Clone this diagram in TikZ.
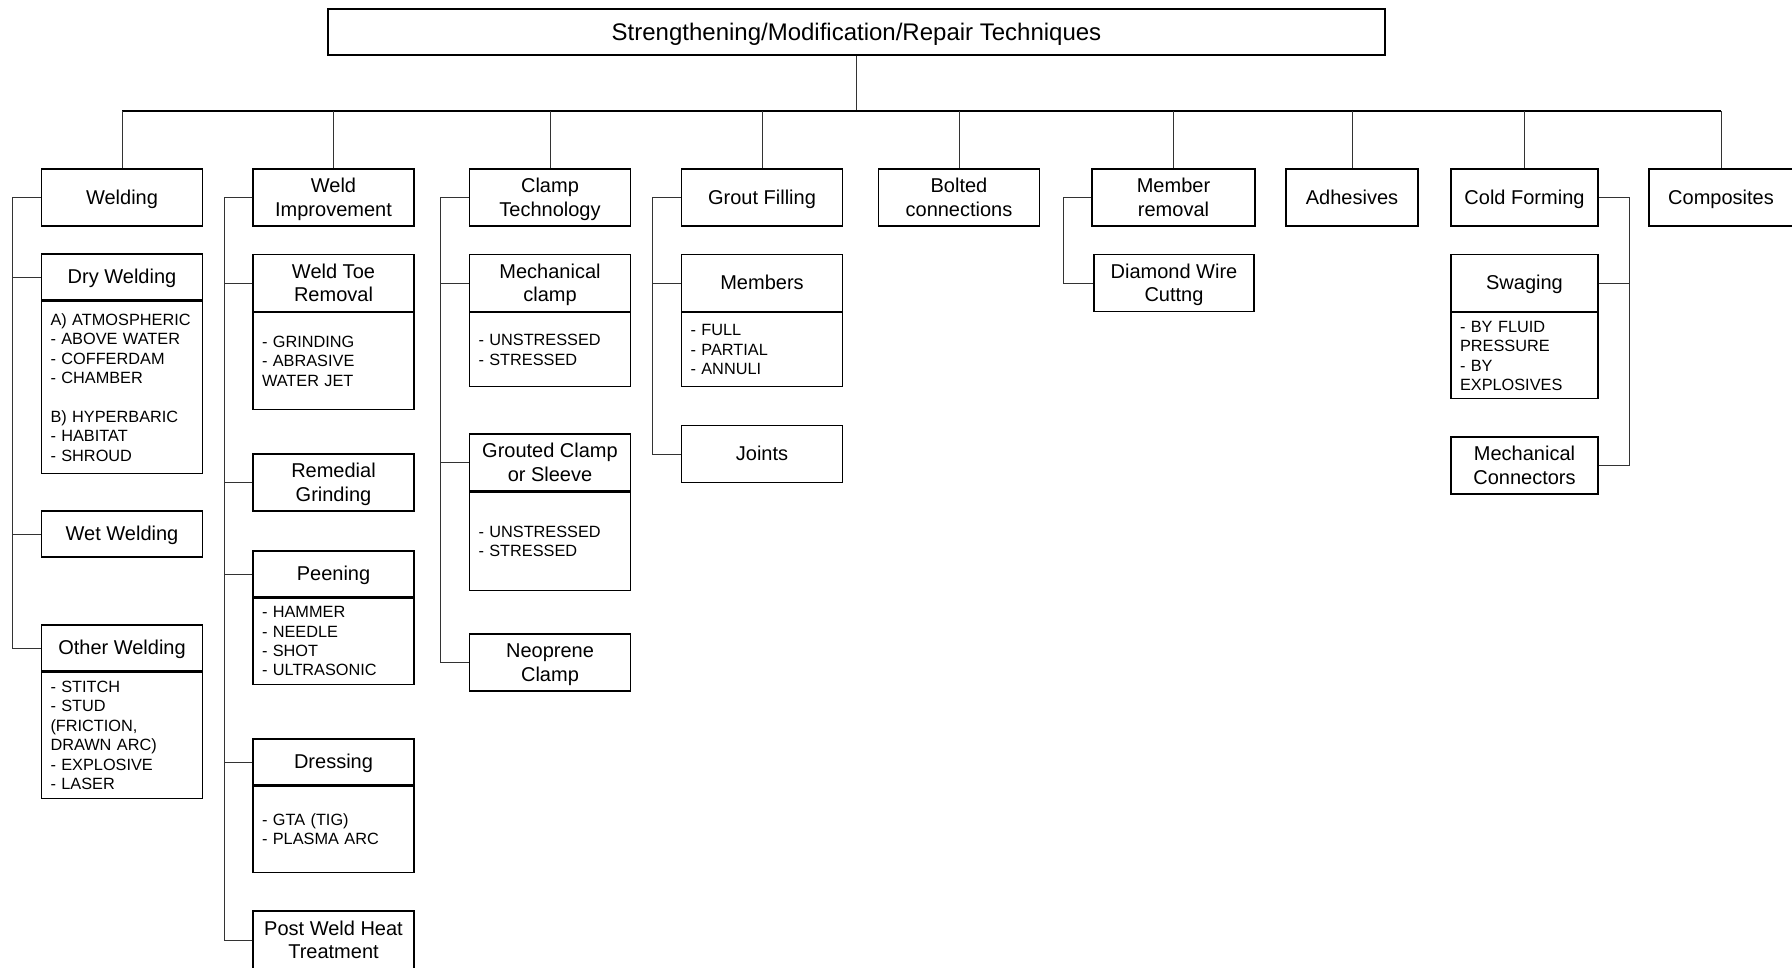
\documentclass[tikz,border=0pt]{standalone}
\usepackage{fontspec}
\setmainfont{Liberation Sans}
\usetikzlibrary{positioning}
\newcommand\vstrut{\rule[-0.212em]{0pt}{1.117em}}
\newcommand\twolines[2]{\raisebox{-2.5pt}[\height][\depth]{\begin{tabular}{@{}c@{}}#1\\#2\end{tabular}}}
\tikzset{
  box/.style={draw,line width=1.3pt,inner sep=0pt,align=center,minimum width=161pt,minimum height=57pt,font=\fontsize{20}{23.5}\selectfont,
    execute at begin node=\vstrut},
  items/.style={draw,line width=1.3pt,inner xsep=9pt,inner ysep=0pt,align=left,font=\fontsize{16.3}{19.4}\selectfont},
  link/.style={line width=1pt,draw=black!80},
  bus/.style={line width=1.8pt}
}
\newcommand\details[5][143pt]{\node(#2)[items,text width=#1,minimum height=#4,below=0pt of #3]{#5};}

\begin{document}
\begin{tikzpicture}[x=1pt,y=-1pt]
    \useasboundingbox (0,0) rectangle (1792,967);
    \node(root)[box,minimum width=1057pt,minimum height=46pt,font=\fontsize{24}{28}\selectfont] at (856.5,32) {Strengthening/Modification/Repair Techniques};
    \coordinate(bus) at (856.5,111);

    \node(weld)[box]                    at (122,197.5)    {Welding};
    \node(wimp)[box]                    at (333.5,197.5)  {\twolines{Weld}{Improvement}};
    \node(clamp)[box]                   at (550,197.5)    {\twolines{Clamp}{Technology}};
    \node(grout)[box]                   at (762,197.5)    {Grout Filling};
    \node(bolt)[box]                    at (959,197.5)    {\twolines{Bolted}{connections}};
    \node(memrem)[box,minimum width=163pt] at (1173.5,197.5) {\twolines{Member}{removal}};
    \node(adhes)[box,minimum width=132pt]  at (1352,197.5)   {Adhesives};
    \node(cold)[box,minimum width=147pt]   at (1524.5,197.5) {Cold Forming};
    \node(compo)[box,minimum width=144pt]  at (1721,197.5)   {Composites};

    \draw[link] (root) -- (bus);
    \draw[bus] (weld.north |- bus) -- (compo.north |- bus);
    \foreach \n in {weld,wimp,clamp,grout,bolt,memrem,adhes,cold,compo}
        \draw[link] (\n.north) -- (\n.north |- bus);

    \node(dryh)[box,minimum height=46pt] at (122,277) {Dry Welding};
    \details{dryb}{dryh}{172pt}{A) ATMOSPHERIC\\- ABOVE WATER\\- COFFERDAM\\- CHAMBER\\[19.4pt]B) HYPERBARIC\\- HABITAT\\- SHROUD}
    \node(weth)[box,minimum height=46pt] at (122,534) {Wet Welding};
    \node(othh)[box,minimum height=46pt] at (122,648) {Other Welding};
    \details{othb}{othh}{126pt}{- STITCH\\- STUD\\(FRICTION,\\DRAWN ARC)\\- EXPLOSIVE\\- LASER}
    \draw[link] (weld.west) -- ++(-28,0) |- (dryh.west);
    \draw[link] (weld.west) -- ++(-28,0) |- (weth.west);
    \draw[link] (weld.west) -- ++(-28,0) |- (othh.west);

    \node(toeh)[box] at (333.5,283) {\twolines{Weld Toe}{Removal}};
    \details{toeb}{toeh}{97pt}{- GRINDING\\- ABRASIVE\\WATER JET}
    \node(remh)[box] at (333.5,482.5) {\twolines{Remedial}{Grinding}};
    \node(peenh)[box,minimum height=46pt] at (333.5,574) {Peening};
    \details{peenb}{peenh}{86pt}{- HAMMER\\- NEEDLE\\- SHOT\\- ULTRASONIC}
    \node(dressh)[box,minimum height=46pt] at (333.5,762) {Dressing};
    \details{dressb}{dressh}{86pt}{- GTA (TIG)\\- PLASMA ARC}
    \node(pwht)[box,minimum height=58pt] at (333.5,940) {\twolines{Post Weld Heat}{Treatment}};
    \draw[link] (wimp.west) -- ++(-28,0) |- (toeh.west);
    \draw[link] (wimp.west) -- ++(-28,0) |- (remh.west);
    \draw[link] (wimp.west) -- ++(-28,0) |- (peenh.west);
    \draw[link] (wimp.west) -- ++(-28,0) |- (dressh.west);
    \draw[link] (wimp.west) -- ++(-28,0) |- (pwht.west);

    \node(mclh)[box] at (550,283) {\twolines{Mechanical}{clamp}};
    \details{mclb}{mclh}{74pt}{- UNSTRESSED\\- STRESSED}
    \node(gclh)[box] at (550,462.5) {\twolines{Grouted Clamp}{or Sleeve}};
    \details{gclb}{gclh}{98pt}{- UNSTRESSED\\- STRESSED}
    \node(neoh)[box] at (550,662.5) {\twolines{Neoprene}{Clamp}};
    \draw[link] (clamp.west) -- ++(-28,0) |- (mclh.west);
    \draw[link] (clamp.west) -- ++(-28,0) |- (gclh.west);
    \draw[link] (clamp.west) -- ++(-28,0) |- (neoh.west);

    \node(memh)[box] at (762,283) {Members};
    \details{memb}{memh}{74pt}{- FULL\\- PARTIAL\\- ANNULI}
    \node(jnth)[box] at (762,454) {Joints};
    \draw[link] (grout.west) -- ++(-28,0) |- (memh.west);
    \draw[link] (grout.west) -- ++(-28,0) |- (jnth.west);

    \node(diam)[box,minimum width=160pt] at (1174,283) {\twolines{Diamond Wire}{Cuttng}};
    \draw[link] (memrem.west) -- ++(-28,0) |- (diam.west);

    \node(swagh)[box,minimum width=147pt] at (1524.5,283) {Swaging};
    \details[129pt]{swagb}{swagh}{86pt}{- BY FLUID\\PRESSURE\\- BY\\EXPLOSIVES}
    \node(mconh)[box,minimum width=147pt] at (1524.5,465.5) {\twolines{Mechanical}{Connectors}};
    \draw[link] (cold.east) -- ++(31,0) |- (swagh.east);
    \draw[link] (cold.east) -- ++(31,0) |- (mconh.east);
\end{tikzpicture}
\end{document}
